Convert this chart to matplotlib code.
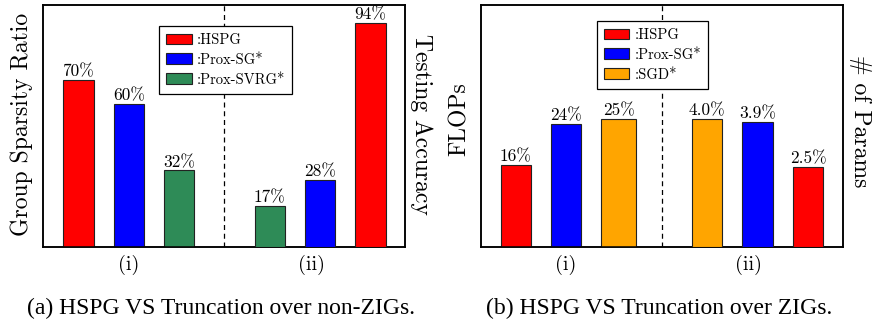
import matplotlib
matplotlib.use("Agg")
import matplotlib.pyplot as plt
from matplotlib.patches import Patch

plt.rcParams["font.family"] = "cmr10"
plt.rcParams["mathtext.fontset"] = "cm"
plt.rcParams["axes.unicode_minus"] = False
plt.rcParams["axes.formatter.use_mathtext"] = True

# (a) non-ZIGs
a_methods = ["HSPG", "Prox-SG*", "Prox-SVRG*"]
a_sparsity = [70, 60, 32]            # group (i), order: HSPG, Prox-SG*, Prox-SVRG*
a_acc_methods = ["Prox-SVRG*", "Prox-SG*", "HSPG"]
a_accuracy = [17, 28, 94]            # group (ii)

# (b) ZIGs
b_methods = ["HSPG", "Prox-SG*", "SGD*"]
b_flops = [16, 24, 25]               # group (i)
b_param_methods = ["SGD*", "Prox-SG*", "HSPG"]
b_params = [4.0, 3.9, 2.5]           # group (ii)

group_labels = ["(i)", "(ii)"]

colors = {"HSPG": "#ff0000", "Prox-SG*": "#0000ff",
          "Prox-SVRG*": "#2e8b57", "SGD*": "#ffa500"}

W, H = 872, 320
fig = plt.figure(figsize=(W / 100, H / 100), dpi=100)

x_i = [0, 1, 2]
x_ii = [3.8, 4.8, 5.8]
sep = 2.9
xlim = (-0.697, 6.49)
bar_w = 0.6
edge = "#222222"


def panel(left, y1_vals, y1_names, y2_vals, y2_names, ylim1, ylim2,
          fmt1, fmt2, legend_names, leg_anchor, wide_last=False):
    ax = fig.add_axes([left / W, 1 - 246.7 / H, 362 / W, 241.7 / H])
    ax2 = ax.twinx()
    widths = [bar_w, bar_w, bar_w + 0.08 if wide_last else bar_w]
    xs = [x_i[0], x_i[1], x_i[2] + (0.04 if wide_last else 0)]
    b1 = ax.bar(xs, y1_vals, width=widths, color=[colors[m] for m in y1_names],
                edgecolor=edge, linewidth=0.8, zorder=3)
    b2 = ax2.bar(x_ii, y2_vals, width=bar_w, color=[colors[m] for m in y2_names],
                 edgecolor=edge, linewidth=0.8, zorder=3)
    ax.set_ylim(*ylim1)
    ax2.set_ylim(*ylim2)
    ax.set_xlim(*xlim)
    for bars, vals, a, f in ((b1, y1_vals, ax, fmt1), (b2, y2_vals, ax2, fmt2)):
        for b, v in zip(bars, vals):
            a.annotate(f.format(v), (b.get_x() + b.get_width() / 2, b.get_height()),
                       xytext=(0, 0.5), textcoords="offset points",
                       ha="center", va="bottom", fontsize=12.5)
    ax.axvline(sep, color="black", linestyle=(0, (4, 3)), linewidth=0.9, zorder=1)
    ax.set_xticks([1, 4.62])
    ax.set_xticklabels(group_labels, fontsize=14.5)
    ax.tick_params(axis="x", length=0, pad=6)
    ax.set_yticks([])
    ax2.set_yticks([])
    for a in (ax, ax2):
        for s in a.spines.values():
            s.set_linewidth(1.1)
    handles = [Patch(facecolor=colors[m], edgecolor=edge, linewidth=0.8)
               for m in legend_names]
    leg = ax2.legend(handles, [":" + m for m in legend_names], loc="upper left",
                     bbox_to_anchor=leg_anchor, borderaxespad=0, fontsize=10.5,
                     fancybox=False, edgecolor="black", framealpha=1,
                     handlelength=1.75, handleheight=0.75, handletextpad=0.35,
                     labelspacing=0.42, borderpad=0.5)
    leg.get_frame().set_linewidth(0.9)
    return ax, ax2


panel(43.3, a_sparsity, a_methods, a_accuracy, a_acc_methods,
      (0, 101.5), (0, 101.5), "{:d}%", "{:d}%", a_methods, (0.319, 0.913))
panel(480.7, b_flops, b_methods, b_params, b_param_methods,
      (0, 47.4), (0, 7.55), "{:d}%", "{:.1f}%", b_methods, (0.320, 0.934),
      wide_last=True)

fig.text(22 / W, 1 - 124 / H, "Group Sparsity Ratio", rotation=90,
         ha="center", va="center", fontsize=17)
fig.text(421 / W, 1 - 124 / H, "Testing Accuracy", rotation=270,
         ha="center", va="center", fontsize=17)
fig.text(460 / W, 1 - 119 / H, "FLOPs", rotation=90,
         ha="center", va="center", fontsize=17)
fig.text(860.7 / W, 1 - 121 / H, "# of Params", rotation=270,
         ha="center", va="center", fontsize=17)

fig.text(221 / W, 1 - 308 / H, "(a) HSPG VS Truncation over non-ZIGs.",
         ha="center", va="center", fontsize=17, family="Liberation Serif")
fig.text(659 / W, 1 - 308 / H, "(b) HSPG VS Truncation over ZIGs.",
         ha="center", va="center", fontsize=17, family="Liberation Serif")

fig.savefig("out.png", dpi=100)
